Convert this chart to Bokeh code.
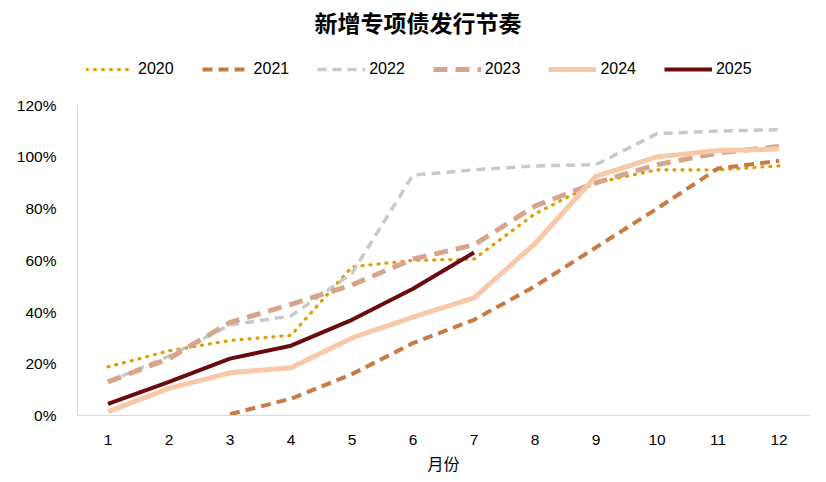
from bokeh.plotting import figure
from bokeh.models import Legend, LegendItem, FixedTicker, Range1d
from bokeh.embed import file_html
from bokeh.resources import INLINE

months = [1, 2, 3, 4, 5, 6, 7, 8, 9, 10, 11, 12]
y2020 = [18.8, 25.0, 29.0, 31.0, 57.5, 60.0, 60.5, 78.0, 90.0, 95.0, 95.0, 96.5]
m2021 = [3, 4, 5, 6, 7, 8, 9, 10, 11, 12]
y2021 = [0.5, 6.5, 16.0, 28.0, 37.0, 50.0, 65.0, 80.0, 95.5, 98.5]
y2022 = [13.0, 23.0, 35.0, 38.5, 55.0, 93.0, 95.0, 96.5, 97.0, 109.0, 110.0, 110.5]
y2023 = [13.0, 22.0, 36.0, 43.0, 50.5, 60.5, 66.0, 81.0, 90.0, 97.0, 101.5, 104.0]
y2024 = [1.5, 10.5, 16.5, 18.5, 30.0, 38.0, 45.5, 66.5, 92.5, 100.0, 102.5, 103.0]
m2025 = [1, 2, 3, 4, 5, 6, 7]
y2025 = [4.5, 13.0, 22.0, 27.0, 37.0, 49.0, 63.0]
y_ticks = [0, 20, 40, 60, 80, 100, 120]

W, H = 818, 477
p = figure(width=W, height=H, output_backend="svg", toolbar_location=None,
           title="新增专项债发行节奏",
           x_range=Range1d(0.5, 12.5), y_range=Range1d(0, 145),
           min_border_left=77, min_border_right=9, min_border_top=39, min_border_bottom=58)
p.outline_line_color = None
p.grid.visible = False
p.background_fill_color = "white"

p.title.align = "left"
p.title.offset = 237
p.title.text_font = "Noto Sans CJK SC"
p.title.text_font_style = "bold"
p.title.text_font_size = "23px"
p.title.text_color = "#000000"
p.title.standoff = 4

FONT = "Liberation Sans"

p.yaxis.ticker = FixedTicker(ticks=y_ticks)
p.yaxis.bounds = (0, 120)
p.yaxis.major_label_overrides = {t: f"{t}%" for t in y_ticks}
p.yaxis.axis_line_color = "#d9d9d9"
p.yaxis.major_tick_line_color = None
p.yaxis.minor_tick_line_color = None
p.yaxis.major_label_text_font = FONT
p.yaxis.major_label_text_font_size = "15.5px"
p.yaxis.major_label_text_color = "#000000"
p.yaxis.major_label_standoff = 15

p.xaxis.ticker = FixedTicker(ticks=months)
p.xaxis.axis_line_color = "#d9d9d9"
p.xaxis.major_tick_line_color = None
p.xaxis.minor_tick_line_color = None
p.xaxis.major_label_text_font = FONT
p.xaxis.major_label_text_font_size = "15.5px"
p.xaxis.major_label_text_color = "#000000"
p.xaxis.major_label_standoff = 13
p.xaxis.axis_label = "月份"
p.xaxis.axis_label_text_font = "Noto Sans CJK SC"
p.xaxis.axis_label_text_font_style = "normal"
p.xaxis.axis_label_text_font_size = "16px"
p.xaxis.axis_label_text_color = "#000000"
p.xaxis.axis_label_standoff = 3

r20 = p.line(months, y2020, line_color="#E29B00", line_width=3.2, line_dash="1 7", line_cap="round")
r21 = p.line(m2021, y2021, line_color="#C87B43", line_width=4, line_dash="10 6")
r22 = p.line(months, y2022, line_color="#C9C9C9", line_width=3.5, line_dash="9 6")
r23 = p.line(months, y2023, line_color="#D6A58B", line_width=5, line_dash="14 8")
r24 = p.line(months, y2024, line_color="#F8C9A8", line_width=5)
r25 = p.line(m2025, y2025, line_color="#6B0A0C", line_width=4)

legend = Legend(items=[LegendItem(label="2020", renderers=[r20]),
                       LegendItem(label="2021", renderers=[r21]),
                       LegendItem(label="2022", renderers=[r22]),
                       LegendItem(label="2023", renderers=[r23]),
                       LegendItem(label="2024", renderers=[r24]),
                       LegendItem(label="2025", renderers=[r25])],
                orientation="horizontal", location=(1, 328),
                glyph_width=48, glyph_height=20, label_height=20,
                label_standoff=4, spacing=28, padding=8, margin=0,
                border_line_alpha=0, background_fill_alpha=0,
                label_text_font=FONT, label_text_font_size="16px",
                label_text_color="#000000")
p.add_layout(legend, "center")

open("out.html", "w").write(file_html(p, INLINE))
